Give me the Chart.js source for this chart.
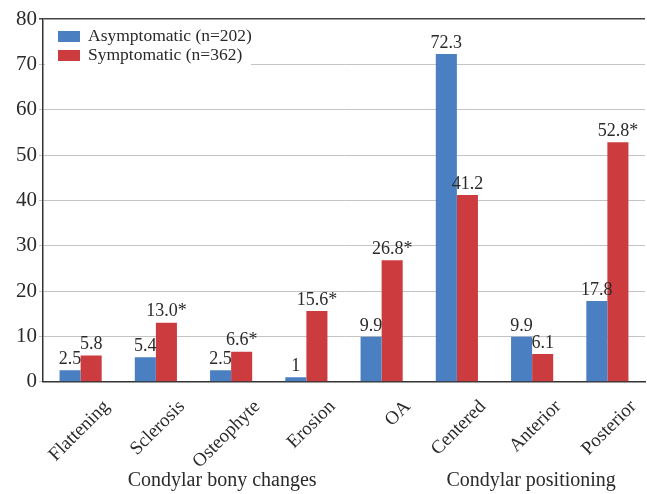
<!DOCTYPE html>
<html>
<head>
<meta charset="utf-8">
<script src="https://cdn.jsdelivr.net/npm/chart.js@4"></script>
<style>
  body { margin: 0; background: #fff; }
  #wrap { width: 647px; height: 494px; }
</style>
</head>
<body>
<div id="wrap"><canvas id="chart" width="647" height="494"></canvas></div>
<script>
const categories = ['Flattening', 'Sclerosis', 'Osteophyte', 'Erosion', 'OA', 'Centered', 'Anterior', 'Posterior'];
const asymptomatic = [2.5, 5.4, 2.5, 1, 9.9, 72.3, 9.9, 17.8];
const symptomatic = [5.8, 13.0, 6.6, 15.6, 26.8, 41.2, 6.1, 52.8];
const asymLabels = ['2.5', '5.4', '2.5', '1', '9.9', '72.3', '9.9', '17.8'];
const sympLabels = ['5.8', '13.0*', '6.6*', '15.6*', '26.8*', '41.2', '6.1', '52.8*'];
const groups = [
    { text: 'Condylar bony changes', from: 0, to: 4 },
    { text: 'Condylar positioning', from: 5, to: 7 }
];

const FONT = '"Liberation Serif", "Times New Roman", serif';

const valueLabels = {
    id: 'valueLabels',
    afterDatasetsDraw(chart) {
        const ctx = chart.ctx;
        const texts = [asymLabels, sympLabels];
        ctx.save();
        ctx.font = '18px ' + FONT;
        ctx.fillStyle = '#2a2a2a';
        ctx.textAlign = 'center';
        ctx.textBaseline = 'bottom';
        chart.data.datasets.forEach((ds, di) => {
            chart.getDatasetMeta(di).data.forEach((bar, i) => {
                ctx.fillText(texts[di][i], bar.x, bar.y - 2);
            });
        });
        ctx.restore();
    }
};

const insideLegend = {
    id: 'insideLegend',
    afterDraw(chart) {
        const ctx = chart.ctx;
        const a = chart.chartArea;
        ctx.save();
        ctx.fillStyle = '#fff';
        ctx.fillRect(a.left + 2, a.top + 4, 206, 46);
        ctx.font = '17.5px ' + FONT;
        ctx.textBaseline = 'middle';
        chart.data.datasets.forEach((ds, i) => {
            const y = a.top + 17 + i * 19;
            ctx.fillStyle = ds.backgroundColor;
            ctx.fillRect(a.left + 15, y - 5, 22, 11);
            ctx.fillStyle = '#2a2a2a';
            ctx.fillText(ds.label, a.left + 45, y);
        });
        ctx.restore();
    }
};

// small hand nudges so the group titles sit where the original put them
const groupNudge = [-9, -1];

const groupLabels = {
    id: 'groupLabels',
    afterDraw(chart) {
        const ctx = chart.ctx;
        const x = chart.scales.x;
        ctx.save();
        ctx.font = '20px ' + FONT;
        ctx.fillStyle = '#2a2a2a';
        ctx.textAlign = 'center';
        ctx.textBaseline = 'middle';
        groups.forEach((g, i) => {
            const cx = (x.getPixelForValue(g.from) + x.getPixelForValue(g.to)) / 2;
            ctx.fillText(g.text, cx + groupNudge[i], 481);
        });
        ctx.restore();
    }
};

const chart = new Chart(document.getElementById('chart'), {
    type: 'bar',
    data: {
        labels: categories,
        datasets: [
            { label: 'Asymptomatic (n=202)', data: asymptomatic, backgroundColor: '#4a7fc2' },
            { label: 'Symptomatic (n=362)', data: symptomatic, backgroundColor: '#cc3c3f' }
        ]
    },
    options: {
        responsive: false,
        animation: false,
        devicePixelRatio: 1,
        categoryPercentage: 0.56,
        barPercentage: 1,
        layout: { padding: { left: 14, right: 2, top: 19, bottom: 15 } },
        plugins: {
            legend: { display: false },
            tooltip: { enabled: false }
        },
        scales: {
            x: {
                grid: { display: false },
                border: { color: '#333', width: 1.5 },
                ticks: {
                    font: { family: FONT, size: 19 },
                    color: '#2a2a2a',
                    maxRotation: 45,
                    minRotation: 45,
                    padding: 6,
                    labelOffset: 26
                }
            },
            y: {
                min: 0,
                max: 80,
                ticks: {
                    stepSize: 10,
                    font: { family: FONT, size: 21 },
                    color: '#2a2a2a',
                    padding: 2
                },
                grid: {
                    color: ctx => ctx.tick && ctx.tick.value === 80 ? '#444' : '#c4c4c4',
                    lineWidth: ctx => ctx.tick && ctx.tick.value === 80 ? 1.5 : 1,
                    drawTicks: true,
                    tickLength: 4
                },
                border: { color: '#333', width: 1.5 }
            }
        }
    },
    plugins: [valueLabels, insideLegend, groupLabels]
});
</script>
</body>
</html>
